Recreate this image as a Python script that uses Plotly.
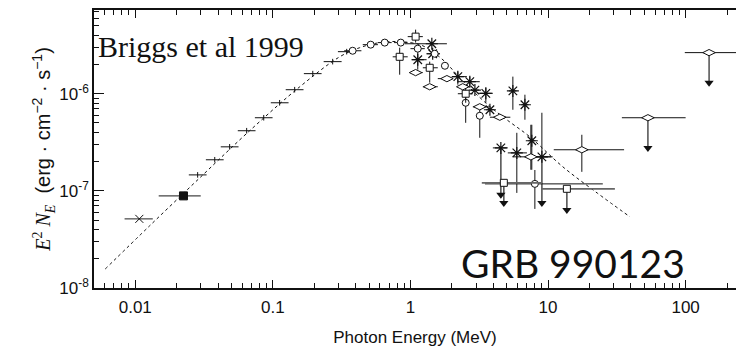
import plotly.graph_objects as go

# ---------------- data (MeV, erg cm^-2 s^-1) ----------------
# low-energy spectral bins (horizontal bars)
bar_E = [0.0284, 0.0378, 0.0485, 0.0645, 0.0858, 0.112, 0.144, 0.195, 0.272, 0.344]
bar_F = [1.46e-7, 2.09e-7, 2.84e-7, 4.16e-7, 5.66e-7, 8.07e-7, 1.10e-6, 1.61e-6, 2.14e-6, 2.71e-6]
bar_Elo = [0.0245, 0.0326, 0.0418, 0.0556, 0.0740, 0.0966, 0.124, 0.168, 0.234, 0.297]
bar_Ehi = [0.0330, 0.0439, 0.0563, 0.0748, 0.0995, 0.130, 0.167, 0.226, 0.316, 0.399]

# filled square
fsq_E = [0.0224]; fsq_F = [8.88e-8]; fsq_Elo = [0.0148]; fsq_Ehi = [0.0299]
# cross
crs_E = [0.0107]; crs_F = [5.15e-8]; crs_Elo = [0.00836]; crs_Ehi = [0.0134]

# open circles
cir_E = [0.380, 0.514, 0.650, 0.850, 1.13, 1.50, 1.78, 2.52, 3.19, 8.02]
cir_F = [2.77e-6, 3.20e-6, 3.36e-6, 3.36e-6, 2.91e-6, 2.58e-6, 1.94e-6, 8.07e-7, 5.93e-7, 1.18e-7]
cir_Elo = [0.33, 0.45, 0.58, 0.76, 1.00, 1.38, 1.70, 2.40, 3.00, 3.48]
cir_Ehi = [0.44, 0.58, 0.73, 0.95, 1.27, 1.63, 1.86, 2.65, 3.40, 25.0]
cir_Flo = [None, None, None, None, None, None, None, 5.02e-7, 3.52e-7, 6.52e-8]
cir_Fhi = [None, None, None, None, None, None, None, 9.5e-7, 7.0e-7, 1.64e-7]

# open squares
sq_E = [1.09, 0.835, 1.38, 2.52]
sq_F = [3.87e-6, 2.40e-6, 1.85e-6, 1.00e-6]
sq_Elo = [0.955, 0.743, 1.23, 2.21]
sq_Ehi = [1.23, 0.955, 1.58, 2.84]
sq_Flo = [3.36e-6, 1.57e-6, 1.30e-6, 8.07e-7]
sq_Fhi = [4.57e-6, 2.98e-6, 2.14e-6, 1.15e-6]
# open square upper limits
sqUL_E = [4.77, 13.7]; sqUL_F = [1.21e-7, 1.05e-7]
sqUL_Elo = [3.30, 9.02]; sqUL_Ehi = [9.02, 30.6]; sqUL_tip = [7.52e-8, 6.37e-8]

# open diamonds
dm_E = [1.09, 1.38, 1.84, 2.40, 3.19, 4.46, 7.50, 17.6]
dm_F = [1.65e-6, 1.18e-6, 1.43e-6, 1.18e-6, 7.34e-7, 5.73e-7, 2.24e-7, 2.65e-7]
dm_Elo = [0.988, 1.23, 1.58, 2.21, 2.84, 3.78, 5.55, 11.0]
dm_Ehi = [1.23, 1.58, 2.03, 2.57, 3.71, 5.32, 10.8, 35.7]
dm_Flo = [None, None, None, None, None, None, 1.65e-7, 1.57e-7]
dm_Fhi = [None, None, None, None, None, None, 4.79e-7, 3.78e-7]
# open diamond upper limits
dmUL_E = [53.2, 148.0]; dmUL_F = [5.66e-7, 2.65e-6]
dmUL_Elo = [34.4, 98.6]; dmUL_Ehi = [100.0, 300.0]; dmUL_tip = [2.77e-7, 1.30e-6]

# asterisks
st_E = [1.13, 1.43, 1.45, 2.21, 2.70, 2.94, 3.53, 3.78, 5.55, 6.79, 5.93, 7.62]
st_F = [2.24e-6, 3.27e-6, 2.58e-6, 1.50e-6, 1.33e-6, 1.09e-6, 1.01e-6, 6.84e-7, 1.07e-6, 7.70e-7, 2.46e-7, 3.28e-7]
st_Elo = [1.02, 0.909, 1.31, 2.00, 2.21, 2.75, 3.09, 3.55, 5.2, 6.4, 5.10, 7.2]
st_Ehi = [1.31, 1.84, 1.64, 2.57, 3.19, 3.15, 3.97, 4.0, 5.9, 7.2, 7.02, 8.1]
st_Flo = [1.77e-6, None, None, 1.24e-6, 1.18e-6, None, 8.07e-7, None, 6.84e-7, 5.40e-7, 9.53e-8, 1.65e-7]
st_Fhi = [2.71e-6, None, None, 1.69e-6, 1.50e-6, None, 1.15e-6, None, 1.50e-6, 9.77e-7, 3.96e-7, 4.79e-7]
# asterisk upper limits
stUL_E = [4.54, 9.02]; stUL_F = [2.77e-7, 2.24e-7]
stUL_Elo = [3.97, 8.0]; stUL_Ehi = [5.10, 10.5]; stUL_tip = [9.1e-8, 7.52e-8]
stUL_Fhi = [None, 6.37e-7]

# model curve (dashed)
mod_E = [0.00605, 0.0127, 0.0294, 0.0678, 0.157, 0.306, 0.428, 0.598, 0.836, 1.17,
         1.38, 1.78, 2.28, 3.65, 5.01, 7.37, 12.8, 22.7, 39.4]
mod_F = [1.57e-8, 4.36e-8, 1.36e-7, 4.16e-7, 1.18e-6, 2.40e-6, 2.98e-6, 3.36e-6, 3.44e-6, 3.20e-6,
         2.84e-6, 2.14e-6, 1.46e-6, 7.70e-7, 5.40e-7, 3.60e-7, 1.77e-7, 9.53e-8, 5.40e-8]

x_tickvals = [0.01, 0.1, 1, 10, 100]
x_ticktext = ["0.01", "0.1", "1", "10", "100"]
y_tickvals = [1e-8, 1e-7, 1e-6]
y_ticktext = ["10<sup>-8</sup>", "10<sup>-7</sup>", "10<sup>-6</sup>"]

# ---------------- helpers ----------------
INK = "#111111"


def err(vals, lo, hi):
    plus, minus = [], []
    for v, l, h in zip(vals, lo, hi):
        plus.append(0 if h is None else h - v)
        minus.append(0 if l is None else v - l)
    return plus, minus


def pts(E, F, Elo, Ehi, Flo=None, Fhi=None, symbol="circle-open", size=7, lw=1.0,
        mcolor=INK, ecolor=INK, ew=1.0):
    xp, xm = err(E, Elo, Ehi)
    tr = dict(x=E, y=F, mode="markers",
              marker=dict(symbol=symbol, size=size, color=mcolor,
                          line=dict(color=INK, width=lw)),
              error_x=dict(type="data", symmetric=False, array=xp, arrayminus=xm,
                           color=ecolor, thickness=ew, width=0),
              showlegend=False, hoverinfo="skip")
    if Flo is not None:
        yp, ym = err(F, Flo, Fhi)
        tr["error_y"] = dict(type="data", symmetric=False, array=yp, arrayminus=ym,
                             color=ecolor, thickness=ew, width=0)
    return go.Scatter(**tr)


def arrows(E, F, tip, color="#555555", w=1.6):
    xs, ys = [], []
    for e, f, t in zip(E, F, tip):
        xs += [e, e, None]
        ys += [f, t, None]
    stem = go.Scatter(x=xs, y=ys, mode="lines", line=dict(color=color, width=w),
                      showlegend=False, hoverinfo="skip")
    head = go.Scatter(x=E, y=tip, mode="markers",
                      marker=dict(symbol="triangle-down", size=8, color="#111111",
                                  line=dict(width=0)),
                      showlegend=False, hoverinfo="skip")
    return [stem, head]


fig = go.Figure()

fig.add_trace(go.Scatter(x=mod_E, y=mod_F, mode="lines", line_shape="spline",
                         line=dict(color=INK, width=1, dash="3px,3px"),
                         showlegend=False, hoverinfo="skip"))

for t in arrows(sqUL_E, sqUL_F, sqUL_tip):
    fig.add_trace(t)
for t in arrows(dmUL_E, dmUL_F, dmUL_tip, color="#222222", w=1.2):
    fig.add_trace(t)
for t in arrows(stUL_E, stUL_F, stUL_tip):
    fig.add_trace(t)

fig.add_trace(pts(bar_E, bar_F, bar_Elo, bar_Ehi, symbol="line-ns-open", size=4, lw=1))
fig.add_trace(pts(crs_E, crs_F, crs_Elo, crs_Ehi, symbol="x-thin-open", size=8, lw=1,
                  ecolor="#444444", ew=1.2))
fig.add_trace(pts(fsq_E, fsq_F, fsq_Elo, fsq_Ehi, symbol="square", size=8, lw=1,
                  ecolor="#444444", ew=1.2))
fig.add_trace(pts(st_E, st_F, st_Elo, st_Ehi, st_Flo, st_Fhi, symbol="asterisk-open", size=10, lw=1.2))
fig.add_trace(pts(stUL_E, stUL_F, stUL_Elo, stUL_Ehi, [None, None], stUL_Fhi,
                  symbol="asterisk-open", size=10, lw=1.2))
fig.add_trace(pts(cir_E, cir_F, cir_Elo, cir_Ehi, cir_Flo, cir_Fhi, symbol="circle", size=7,
                  mcolor="white"))
fig.add_trace(pts(sq_E, sq_F, sq_Elo, sq_Ehi, sq_Flo, sq_Fhi, symbol="square", size=7,
                  mcolor="white"))
fig.add_trace(pts(sqUL_E, sqUL_F, sqUL_Elo, sqUL_Ehi, symbol="square", size=7,
                  mcolor="white", ecolor="#666666", ew=1.8))
fig.add_trace(pts(dm_E, dm_F, dm_Elo, dm_Ehi, dm_Flo, dm_Fhi, symbol="diamond-wide", size=9,
                  mcolor="white"))
fig.add_trace(pts(dmUL_E, dmUL_F, dmUL_Elo, dmUL_Ehi, symbol="diamond-wide", size=9,
                  mcolor="white"))

minor_x = [m * 10.0 ** k for k in range(-3, 3) for m in range(2, 10)]
minor_y = [m * 10.0 ** k for k in range(-9, -5) for m in range(2, 10)]

fig.update_layout(
    width=736, height=357,
    margin=dict(l=94, r=0, t=10, b=69),
    paper_bgcolor="white", plot_bgcolor="white",
    font=dict(family="Liberation Sans, Arial, sans-serif", size=17, color="#111111"),
    xaxis=dict(type="log", range=[-2.30, 2.366],
               tickvals=x_tickvals, ticktext=x_ticktext,
               ticks="inside", ticklen=8, tickwidth=1, tickcolor="#111111",
               ticklabelstandoff=3,
               showline=True, linecolor="#111111", linewidth=1.5, mirror="ticks",
               showgrid=False, zeroline=False,
               minor=dict(tickvals=minor_x, ticks="inside", ticklen=5, tickwidth=1,
                          tickcolor="#111111", showgrid=False),
               title=dict(text="Photon Energy (MeV)", font=dict(size=17), standoff=15)),
    yaxis=dict(type="log", range=[-8, -5.138],
               tickvals=y_tickvals, ticktext=y_ticktext,
               ticks="inside", ticklen=10, tickwidth=1, tickcolor="#111111",
               showline=True, linecolor="#111111", linewidth=1.5, mirror=False,
               showgrid=False, zeroline=False,
               minor=dict(tickvals=minor_y, ticks="inside", ticklen=5, tickwidth=1,
                          tickcolor="#111111", showgrid=False),
               title=dict(text='<span style="font-family:Liberation Serif"><i>E</i><sup>2</sup> <i>N<sub>E</sub></i></span>'
                               '  (erg · cm<sup>−2</sup> · s<sup>−1</sup>)',
                          font=dict(size=20), standoff=3)),
    annotations=[
        dict(text="Briggs et al 1999", xref="paper", yref="paper", x=0.003, y=0.87,
             xanchor="left", yanchor="middle", showarrow=False,
             font=dict(family="Liberation Serif, Times New Roman, serif", size=30, color="#111111")),
        dict(text="GRB 990123", xref="paper", yref="paper", x=0.923, y=0.0,
             xanchor="right", yanchor="bottom", showarrow=False,
             font=dict(family="Lato, Open Sans, sans-serif", size=39, color="#111111")),
    ],
)

fig.write_html("out.html")
